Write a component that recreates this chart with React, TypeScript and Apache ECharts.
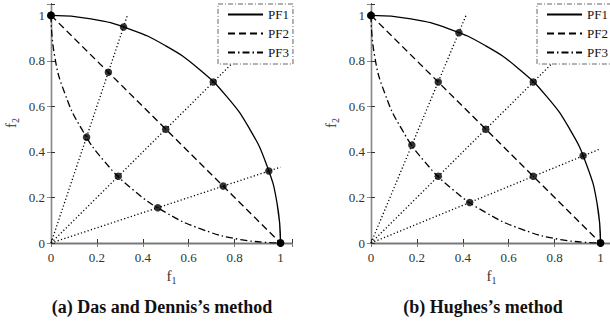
import React, { useEffect, useRef } from 'react';
import * as echarts from 'echarts';

// ---- data ----
const frontNames = ['PF1', 'PF2', 'PF3'];
const tickLabels = ['0', '0.2', '0.4', '0.6', '0.8', '1'];
const panelTitles = ['(a) Das and Dennis\u2019s method', '(b) Hughes\u2019s method'];

// Pareto fronts (sampled curves)
const pf1Curve = [[0, 1], [0.174, 0.985], [0.342, 0.94], [0.5, 0.866], [0.643, 0.766], [0.766, 0.643], [0.866, 0.5], [0.94, 0.342], [0.985, 0.174], [1, 0]];
const pf2Curve = [[0, 1], [1, 0]];
const pf3Curve = [[0, 1], [0.015, 0.826], [0.06, 0.658], [0.134, 0.5], [0.234, 0.357], [0.357, 0.234], [0.5, 0.134], [0.658, 0.06], [0.826, 0.015], [1, 0]];

// (a) Das and Dennis
const ddRays = [[[0, 0], [0.333, 1]], [[0, 0], [1, 1]], [[0, 0], [1, 0.333]]];
const ddPF1 = [[0, 1], [0.316, 0.949], [0.707, 0.707], [0.949, 0.316], [1, 0]];
const ddPF2 = [[0, 1], [0.25, 0.75], [0.5, 0.5], [0.75, 0.25], [1, 0]];
const ddPF3 = [[0, 1], [0.155, 0.465], [0.293, 0.293], [0.465, 0.155], [1, 0]];

// (b) Hughes
const hRays = [[[0, 0], [0.414, 1]], [[0, 0], [1, 1]], [[0, 0], [1, 0.414]]];
const hPF1 = [[0, 1], [0.383, 0.924], [0.707, 0.707], [0.924, 0.383], [1, 0]];
const hPF2 = [[0, 1], [0.293, 0.707], [0.5, 0.5], [0.707, 0.293], [1, 0]];
const hPF3 = [[0, 1], [0.178, 0.43], [0.293, 0.293], [0.43, 0.178], [1, 0]];

const panels = [
  { rays: ddRays, points: [ddPF1, ddPF2, ddPF3] },
  { rays: hRays, points: [hPF1, hPF2, hPF3] },
];

const SERIF = "'Liberation Serif', 'DejaVu Serif', serif";

export default function App() {
  const ref = useRef<HTMLDivElement>(null);
  useEffect(() => {
    if (!ref.current) return;
    const chart = echarts.init(ref.current, null, { renderer: 'svg' });
    const gridLeft = [51, 371];
    const legendLeft = [218, 537];
    const titleX = [162, 483];
    const yNameX = [11, 331];
    const fmt = (v: number) => (v > 1.01 ? '' : tickLabels[Math.round(v / 0.2)] ?? '');
    const curves = [pf1Curve, pf2Curve, pf3Curve];
    const dashes: any[] = ['solid', [7, 4], [7, 3, 1.5, 3]];
    const nameRich = {
      f: { fontFamily: SERIF, fontSize: 15, color: '#333', lineHeight: 18, verticalAlign: 'middle' },
      s: { fontFamily: SERIF, fontSize: 10, color: '#333', verticalAlign: 'bottom' },
    };
    const gRich = {
      f: { fontFamily: SERIF, fontSize: 15, fill: '#333', lineHeight: 18, verticalAlign: 'middle' },
      s: { fontFamily: SERIF, fontSize: 10, fill: '#333', verticalAlign: 'bottom' },
    };

    const grid: any[] = [];
    const xAxis: any[] = [];
    const yAxis: any[] = [];
    const series: any[] = [];
    const legend: any[] = [];
    const graphic: any[] = [];

    panels.forEach((p, i) => {
      grid.push({
        left: gridLeft[i], top: 4, width: 241, height: 239,
        containLabel: false, outerBoundsMode: 'none',
      });
      const base = {
        type: 'value', min: 0, max: 1.05, interval: 0.2, gridIndex: i,
        splitLine: { show: false },
      };
      xAxis.push({
        ...base, position: 'bottom',
        axisLine: { lineStyle: { color: '#000', width: 1.3 } },
        axisTick: { inside: true, length: 4, lineStyle: { color: '#333' } },
        axisLabel: { formatter: fmt, fontFamily: SERIF, fontSize: 13, color: '#333', margin: 8 },
        name: '{f|f}{s|1}', nameLocation: 'middle', nameGap: 24, nameMoveOverlap: false,
        nameTextStyle: { rich: nameRich },
      });
      xAxis.push({
        ...base, position: 'top',
        axisLine: { lineStyle: { color: '#777', width: 1 } },
        axisTick: { inside: true, length: 4, lineStyle: { color: '#777' } },
        axisLabel: { show: false },
      });
      yAxis.push({
        ...base, position: 'left',
        axisLine: { lineStyle: { color: '#000', width: 1.3 } },
        axisTick: { inside: true, length: 4, lineStyle: { color: '#333' } },
        axisLabel: { formatter: fmt, fontFamily: SERIF, fontSize: 13, color: '#333', margin: 6 },
      });
      yAxis.push({
        ...base, position: 'right',
        axisLine: { lineStyle: { color: '#888', width: 1 } },
        axisTick: { inside: true, length: 4, lineStyle: { color: '#888' } },
        axisLabel: { show: false },
      });
      const xi = i * 2;
      const yi = i * 2;
      p.rays.forEach((r) => {
        series.push({
          type: 'line', xAxisIndex: xi, yAxisIndex: yi, data: r, symbol: 'none',
          lineStyle: { color: '#000', width: 1.3, type: [1.2, 2.3] }, z: 1, silent: true,
        });
      });
      curves.forEach((c, k) => {
        series.push({
          name: frontNames[k], type: 'line', xAxisIndex: xi, yAxisIndex: yi, data: c,
          symbol: 'none', showSymbol: false, smooth: k === 1 ? false : 0.5, color: '#000',
          lineStyle: { color: '#000', width: 1.3, type: dashes[k] }, z: 2,
        });
      });
      p.points.forEach((pts) => {
        series.push({
          type: 'scatter', xAxisIndex: xi, yAxisIndex: yi, data: pts,
          symbol: 'circle', symbolSize: 7.5, itemStyle: { color: '#000' }, z: 3,
        });
      });
      legend.push({
        data: frontNames, orient: 'vertical', left: legendLeft[i], top: 4,
        itemWidth: 35, itemHeight: 10, itemGap: 6, padding: [4, 4, 5, 9],
        backgroundColor: '#fff', borderColor: '#666', borderWidth: 1, borderType: [5, 2, 1, 2],
        textStyle: { fontFamily: SERIF, fontSize: 13, color: '#111' },
        itemStyle: { opacity: 0 },
        selectedMode: false, z: 10,
      });
      graphic.push({
        type: 'text', x: titleX[i], y: 298,
        style: {
          text: panelTitles[i], fontFamily: SERIF, fontWeight: 'bold', fontSize: 18,
          fill: '#111', textAlign: 'center',
        },
      });
      graphic.push({
        type: 'text', x: yNameX[i], y: 123, rotation: Math.PI / 2,
        style: {
          text: '{f|f}{s|2}', rich: gRich, align: 'center', verticalAlign: 'middle',
        },
      });
    });

    chart.setOption({
      animation: false,
      grid, xAxis, yAxis, series, legend, graphic,
    });
    return () => chart.dispose();
  }, []);
  return (
    <div
      ref={ref}
      style={{ position: 'fixed', left: 0, top: 0, width: 610, height: 328, background: '#fff' }}
    />
  );
}
